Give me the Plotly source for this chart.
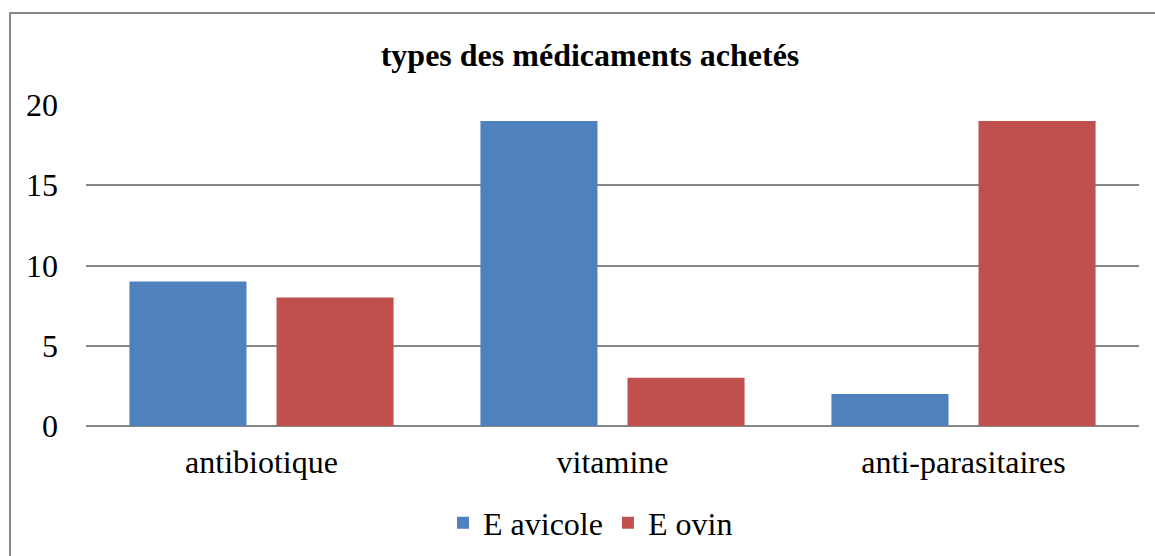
import plotly.graph_objects as go

categories = ["antibiotique", "vitamine", "anti-parasitaires"]
avicole = [9, 19, 2]
ovin = [8, 3, 19]
series_names = ["E avicole", "E ovin"]
y_ticks = [0, 5, 10, 15, 20]
title_text = "types des médicaments achetés"

FONT = "Liberation Serif"
FS = 32

fig = go.Figure()
fig.add_trace(go.Bar(x=categories, y=avicole, name=series_names[0],
                     marker=dict(color="#4F81BD", line=dict(width=0))))
fig.add_trace(go.Bar(x=categories, y=ovin, name=series_names[1],
                     marker=dict(color="#C0504D", line=dict(width=0))))

W, H = 1155, 556
L, R, T, B = 86, 16, 105, 130
pw, ph = W - L - R, H - T - B

def px_x(x):
    return (x - L) / pw

def px_y(y):
    return (H - B - y) / ph

fig.update_layout(
    width=W, height=H,
    margin=dict(l=L, r=R, t=T, b=B, pad=0, autoexpand=False),
    paper_bgcolor="white", plot_bgcolor="white",
    font=dict(family=FONT, size=FS, color="black"),
    title=dict(text="<b>" + title_text + "</b>", x=590 / W, xanchor="center",
               y=1 - 55 / H, yanchor="middle",
               font=dict(family=FONT, size=FS, color="black")),
    barmode="group", bargap=0.162, bargroupgap=0.204,
    showlegend=True,
    legend=dict(orientation="h", x=0.5 - 22 / pw, xanchor="center",
                y=px_y(523), yanchor="middle",
                font=dict(family=FONT, size=FS, color="black"),
                traceorder="normal"),
    xaxis=dict(showgrid=False, showline=False, zeroline=False, ticks="",
               tickfont=dict(family=FONT, size=FS), ticklabelstandoff=14),
    yaxis=dict(range=[0, 20], tickvals=y_ticks, showgrid=True,
               gridcolor="#868686", gridwidth=1.5, zeroline=True,
               zerolinecolor="#868686", zerolinewidth=2, showline=False,
               ticks="", tickfont=dict(family=FONT, size=FS),
               ticklabelstandoff=27),
    shapes=[dict(type="rect", xref="paper", yref="paper",
                 x0=px_x(10), x1=px_x(1200), y0=px_y(600), y1=px_y(13),
                 line=dict(color="#878787", width=2), fillcolor="rgba(0,0,0,0)",
                 layer="below")],
)

fig.write_html("out.html", config={"displayModeBar": False},
               post_script="document.body.style.margin='0';")
